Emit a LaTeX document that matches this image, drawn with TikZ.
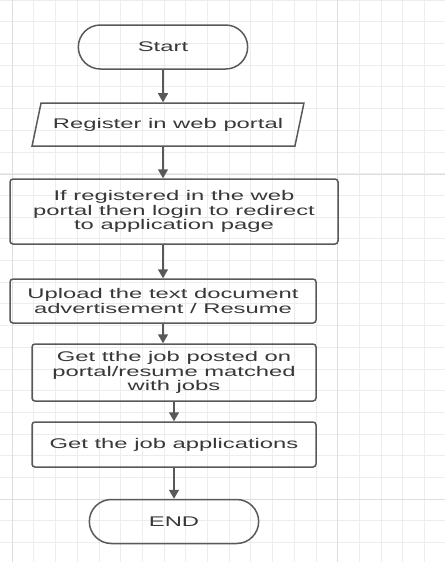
\documentclass[tikz,border=0pt]{standalone}
\usepackage{fontspec}
\setmainfont{Liberation Sans}[FakeStretch=1.7]
\usetikzlibrary{positioning,shapes.misc,shapes.geometric,arrows.meta}

\begin{document}
\begin{tikzpicture}[x=1pt,y=-1pt,on grid,
  every node/.style={font=\fontsize{14}{14.7}\selectfont,text=black!78},
  term/.style={rounded rectangle,draw=black!65,line width=1.5pt,minimum width=176pt,minimum height=44pt},
  io/.style={trapezium,trapezium left angle=67,trapezium right angle=113,trapezium stretches,draw=black!65,line width=1.5pt,minimum width=272pt,minimum height=43pt,inner xsep=3pt},
  proc/.style={rectangle,rounded corners=3pt,draw=black!65,line width=1.5pt,align=center,inner sep=0pt},
  arr/.style={-{Triangle[width=10pt,length=9pt]},draw=black!65,line width=1.5pt}]
\useasboundingbox (0,0) rectangle (445,562);
\foreach \k in {-1,...,20} \draw[black!7,line width=0.6pt] ({12+21.7*\k},0) -- ++(0,562);
\foreach \k in {-3,...,23} \draw[black!7,line width=0.6pt] (0,{499-21.7*\k}) -- ++(445,0);
\foreach \k in {12,337.5} \draw[black!13,line width=0.8pt] (\k,0) -- ++(0,562);
\foreach \k in {174,499} \draw[black!13,line width=0.8pt] (0,\k) -- ++(445,0);

\node[term] (S) at (163,47) {Start};
\node[io] (R) [below=77.5pt of S,xshift=5pt] {Register in web portal};
\node[proc,minimum width=328pt,minimum height=65pt] (L) [below=87pt of R,xshift=6pt] {If registered in the web\\portal then login to redirect\\to application page};
\node[proc,minimum width=306pt,minimum height=44pt] (U) [below=89.5pt of L,xshift=-11pt] {Upload the text document\\advertisement / Resume};
\node[proc,minimum width=284pt,minimum height=57pt] (M) [below=71.5pt of U,xshift=11pt] {Get tthe job posted on\\portal/resume matched\\with jobs};
\node[proc,minimum width=284pt,minimum height=45pt] (A) [below=72pt of M] {Get the job applications};
\node[term] (E) [below=77pt of A] {END};
\draw[arr] (S.south) -- (S.south |- R.north);
\draw[arr] (R.south -| S) -- (S |- L.north);
\draw[arr] (L.south -| U) -- (U.north);
\draw[arr] (U.south) -- (U.south |- M.north);
\draw[arr] (M.south) -- (A.north);
\draw[arr] (A.south) -- (E.north);
\end{tikzpicture}
\end{document}
